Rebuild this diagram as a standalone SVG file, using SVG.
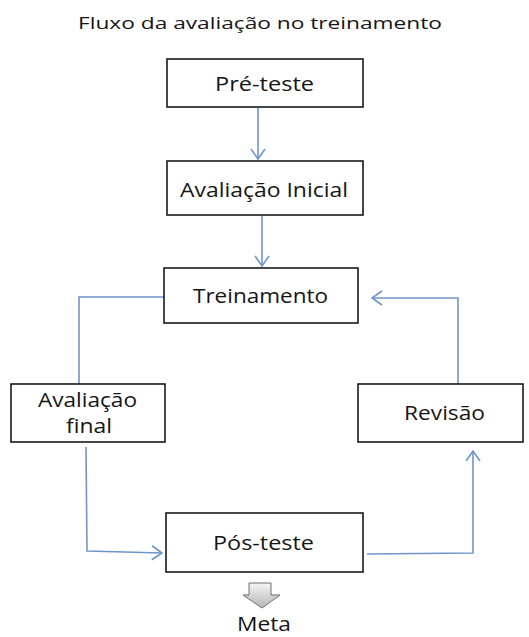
<svg xmlns="http://www.w3.org/2000/svg" width="529" height="637" viewBox="0 0 529 637">
<defs>
<style>
.box{fill:#fff;stroke:#1a1a1a;stroke-width:1.6}
.t{font-family:"Open Sans","Liberation Sans",sans-serif;font-size:19.5px;fill:#151515;text-anchor:middle}
.c{fill:none;stroke:#6f95cc;stroke-width:1.6}
</style>
<marker id="ah" viewBox="0 0 12 16" refX="11" refY="8" markerWidth="12" markerHeight="16" markerUnits="userSpaceOnUse" orient="auto">
<path d="M1,1 L11,8 L1,15" fill="none" stroke="#6f95cc" stroke-width="1.6"/>
</marker>
<linearGradient id="gg" x1="0" y1="0" x2="0" y2="1">
<stop offset="0" stop-color="#f4f4f4"/>
<stop offset="1" stop-color="#b5b5b5"/>
</linearGradient>
</defs>
<rect width="529" height="637" fill="#fff"/>
<text class="t" x="260" y="29" style="font-size:16px" textLength="364" lengthAdjust="spacingAndGlyphs">Fluxo da avaliação no treinamento</text>
<g id="connectors">
<line class="c" x1="258" y1="108" x2="258" y2="159" marker-end="url(#ah)"/>
<line class="c" x1="262" y1="216" x2="262" y2="266" marker-end="url(#ah)"/>
<polyline class="c" points="164,297 79,297 79,384"/>
<polyline class="c" points="86,447 87,551 162,553" marker-end="url(#ah)"/>
<polyline class="c" points="367,554 473,553 473,451" marker-end="url(#ah)"/>
<polyline class="c" points="458,384 458,298 372,298" marker-end="url(#ah)"/>
</g>
<g id="pre-teste"><rect class="box" x="167" y="59" width="196" height="48"/><text class="t" x="264.5" y="91" textLength="99" lengthAdjust="spacingAndGlyphs">Pré-teste</text></g>
<g id="avaliacao-inicial"><rect class="box" x="167" y="161" width="196" height="54"/><text class="t" x="264" y="197" textLength="168" lengthAdjust="spacingAndGlyphs">Avaliação Inicial</text></g>
<g id="treinamento"><rect class="box" x="164" y="268" width="194" height="55"/><text class="t" x="260.5" y="303" textLength="135" lengthAdjust="spacingAndGlyphs">Treinamento</text></g>
<g id="avaliacao-final"><rect class="box" x="11" y="384" width="154" height="58"/><text class="t" x="87.5" y="407" textLength="99" lengthAdjust="spacingAndGlyphs">Avaliação</text><text class="t" x="89" y="433" textLength="46" lengthAdjust="spacingAndGlyphs">final</text></g>
<g id="revisao"><rect class="box" x="358" y="384" width="165" height="58"/><text class="t" x="444.5" y="420" textLength="81" lengthAdjust="spacingAndGlyphs">Revisão</text></g>
<g id="pos-teste"><rect class="box" x="166" y="513" width="197" height="59"/><text class="t" x="263.5" y="550" textLength="101" lengthAdjust="spacingAndGlyphs">Pós-teste</text></g>
<g id="meta"><path d="M249,583 L271,583 L271,595 L280,595 L262,608 L243,595 L249,595 Z" fill="url(#gg)" stroke="#707070" stroke-width="1"/><text class="t" x="264" y="631" textLength="54" lengthAdjust="spacingAndGlyphs">Meta</text></g>
</svg>
